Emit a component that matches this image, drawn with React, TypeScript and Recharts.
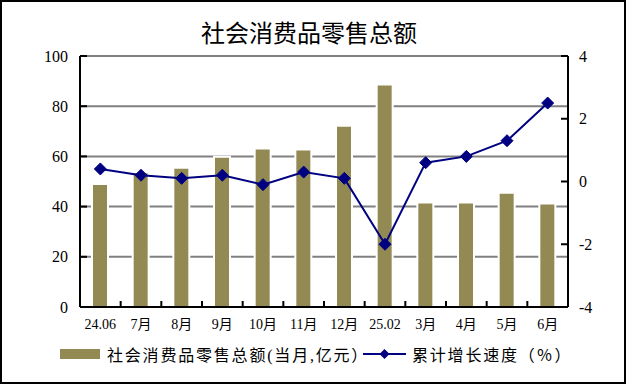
import React from "react"
import { ComposedChart, Bar, Line, XAxis, YAxis, CartesianGrid, Legend } from "recharts"

const months = ["24.06", "7月", "8月", "9月", "10月", "11月", "12月", "25.02", "3月", "4月", "5月", "6月"]
const retailSales = [49.0, 53.7, 55.5, 59.9, 63.1, 62.7, 72.2, 88.6, 41.6, 41.6, 45.5, 41.2]
const growthRate = [0.4, 0.2, 0.1, 0.2, -0.1, 0.3, 0.1, -2.0, 0.6, 0.8, 1.3, 2.5]
const leftTicks = [0, 20, 40, 60, 80, 100]
const rightTicks = [-4, -2, 0, 2, 4]

const BAR = "#938953"
const LINE = "#000080"
const SERIF = '"Liberation Serif", "Noto Sans CJK SC", serif'

const data = months.map((m, i) => ({ month: m, sales: retailSales[i], growth: growthRate[i] }))

function Diamond(props: any) {
  const { cx, cy } = props
  if (cx == null || cy == null) return null
  const r = 6
  return <polygon points={`${cx},${cy - r} ${cx + r},${cy} ${cx},${cy + r} ${cx - r},${cy}`} fill={LINE} stroke={LINE} />
}

// category labels plus the small inward ticks on the band edges
function MonthTick(props: any) {
  const { x, y, payload, index } = props
  const band = (props.width ?? 488) / months.length
  const axisY = y - 12
  return (
    <g>
      {index > 0 && <line x1={x - band / 2} x2={x - band / 2} y1={axisY} y2={axisY - 6} stroke="#000" strokeWidth={2} />}
      <text x={x} y={y} dy="0.71em" textAnchor="middle" fontSize={14} fontFamily={SERIF} fill="#000">
        {payload.value}
      </text>
    </g>
  )
}

function LegendContent() {
  const text = { fontSize: 16, fontFamily: SERIF, color: "#000", whiteSpace: "nowrap" as const, letterSpacing: 1.8 }
  return (
    <div style={{ position: "relative", height: 22 }}>
      <div style={{ position: "absolute", left: 58, top: 0, display: "flex", alignItems: "center", height: 22 }}>
        <span style={{ display: "inline-block", width: 40, height: 10, background: BAR, marginRight: 7 }} />
        <span style={text}>社会消费品零售总额(当月,亿元）</span>
      </div>
      <div style={{ position: "absolute", left: 361, top: 0, display: "flex", alignItems: "center", height: 22 }}>
        <svg width={43} height={12} style={{ marginRight: 6 }}>
          <line x1={0} x2={43} y1={6} y2={6} stroke={LINE} strokeWidth={2} />
          <polygon points="21.5,1 26.5,6 21.5,11 16.5,6" fill={LINE} />
        </svg>
        <span style={text}>累计增长速度（％）</span>
      </div>
    </div>
  )
}

export default function App() {
  return (
    <div
      style={{
        position: "absolute",
        left: 0,
        top: 0,
        width: 626,
        height: 384,
        boxSizing: "border-box",
        border: "2px solid #000",
        background: "#fff",
      }}
    >
      <div
        style={{
          position: "absolute",
          left: 0,
          top: 18,
          width: 614,
          textAlign: "center",
          fontSize: 24,
          lineHeight: "24px",
          fontFamily: '"Noto Sans CJK SC", sans-serif',
          color: "#000",
        }}
      >
        社会消费品零售总额
      </div>
      <ComposedChart width={622} height={380} data={data} margin={{ top: 54, right: 16, left: 18, bottom: 45 }}>
        <CartesianGrid yAxisId="left" vertical={false} stroke="#808080" strokeWidth={2} />
        <XAxis
          dataKey="month"
          height={30}
          tickSize={0}
          tickMargin={12}
          tickLine={false}
          axisLine={{ stroke: "#000", strokeWidth: 2 }}
          tick={<MonthTick />}
          interval={0}
        />
        <YAxis
          yAxisId="left"
          width={60}
          domain={[0, 100]}
          ticks={leftTicks}
          tickSize={-7}
          tickMargin={19}
          axisLine={{ stroke: "#000", strokeWidth: 2 }}
          tickLine={{ stroke: "#000", strokeWidth: 2 }}
          tick={{ fontSize: 16, fontFamily: SERIF, fill: "#000" }}
        />
        <YAxis
          yAxisId="right"
          orientation="right"
          width={40}
          domain={[-4, 4]}
          ticks={rightTicks}
          tickSize={-7}
          tickMargin={18}
          axisLine={{ stroke: "#000", strokeWidth: 2 }}
          tickLine={{ stroke: "#000", strokeWidth: 2 }}
          tick={{ fontSize: 16, fontFamily: SERIF, fill: "#000", textAnchor: "start" }}
        />
        <Bar yAxisId="left" dataKey="sales" fill={BAR} barSize={16} stroke="#fff" strokeWidth={2} isAnimationActive={false} />
        <Line
          yAxisId="right"
          dataKey="growth"
          stroke={LINE}
          strokeWidth={2}
          dot={<Diamond />}
          activeDot={false}
          isAnimationActive={false}
        />
        <Legend
          layout="horizontal"
          verticalAlign="middle"
          align="center"
          wrapperStyle={{ top: 341, left: 0, width: 622 }}
          content={<LegendContent />}
        />
      </ComposedChart>
    </div>
  )
}
